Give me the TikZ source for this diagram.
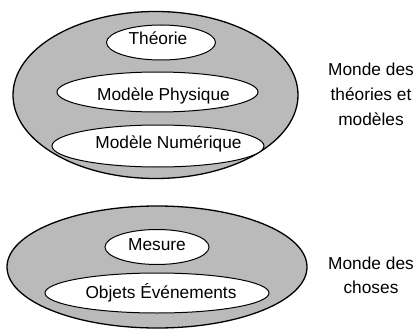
\documentclass[tikz,border=0pt]{standalone}
\usepackage{fontspec}
\setmainfont{Liberation Sans}
\usetikzlibrary{shapes.geometric}
\begin{document}
\begin{tikzpicture}[x=1pt,y=-1pt,
  outer/.style={draw=black, line width=1.3pt, fill=black!27, ellipse, inner sep=0pt},
  inner/.style={draw=black, line width=1pt, fill=white, ellipse, inner sep=0pt},
  txt/.style={anchor=base, inner sep=0pt, font=\fontsize{17.3}{20}\selectfont},
  side/.style={anchor=base, inner sep=0pt, align=center, font=\fontsize{17.3}{24.5}\selectfont}]
\useasboundingbox (0,0) rectangle (415,329);
% top world
\node[outer, minimum width=285pt, minimum height=167pt] (top) at (155.5,95) {};
\node[inner, minimum width=109pt, minimum height=35pt] (theo) at (161,42.5) {};
\node[inner, minimum width=201pt, minimum height=40pt] (phys) at (157.5,92) {};
\node[inner, minimum width=212pt, minimum height=42pt] (num) at (158,146) {};
\node[txt] (theot) at (158,45) {Théorie};
\node[txt] (physt) at (163.5,100) {Modèle Physique};
\node[txt] (numt) at (168.5,148.5) {Modèle Numérique};
% bottom world
\node[outer, minimum width=300pt, minimum height=122pt] (bot) at (157,267) {};
\node[inner, minimum width=104pt, minimum height=35pt] (mes) at (157,247) {};
\node[inner, minimum width=224pt, minimum height=40pt] (obj) at (157,293) {};
\node[txt] (mest) at (157,250) {Mesure};
\node[txt] (objt) at (161,298.5) {Objets Événements};
% side labels
\node[side] (lab1) at (371,76) {Monde des};
\node[side] (lab2) at (371,100.5) {théories et};
\node[side] (lab3) at (371,125) {modèles};
\node[side] (lab4) at (371,269) {Monde des};
\node[side] (lab5) at (371,293) {choses};
\end{tikzpicture}
\end{document}
